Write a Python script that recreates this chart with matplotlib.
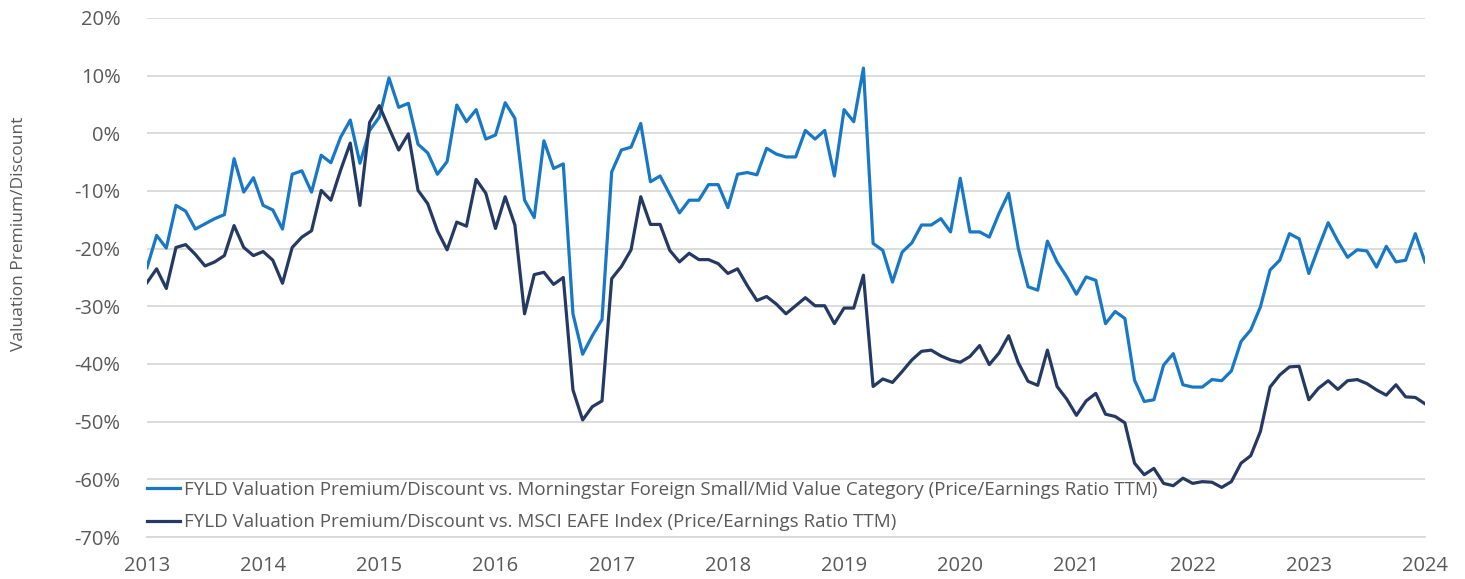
import numpy as np
import matplotlib
matplotlib.use("Agg")
import matplotlib.pyplot as plt
from matplotlib.ticker import FuncFormatter

plt.rcParams['font.family'] = ['Open Sans', 'DejaVu Sans']

# Monthly observations, Jan 2013 .. Jan 2024 (percent)
morningstar = [
    -23.3, -17.7, -19.9, -12.5, -13.5, -16.6, -15.7, -14.8, -14.1, -4.4, -10.2, -7.7,
    -12.5, -13.3, -16.6, -7.1, -6.5, -10.2, -3.8, -5.1, -0.7, 2.3, -5.2, 0.5,
    2.8, 9.6, 4.5, 5.2, -1.9, -3.4, -7.1, -4.9, 4.9, 2.0, 4.1, -1.0,
    -0.3, 5.3, 2.6, -11.6, -14.6, -1.3, -6.1, -5.3, -31.3, -38.3, -35.1, -32.3,
    -6.7, -2.9, -2.4, 1.7, -8.4, -7.4, -10.6, -13.8, -11.6, -11.6, -8.9, -8.9,
    -12.9, -7.1, -6.8, -7.2, -2.6, -3.6, -4.1, -4.1, 0.5, -1.0, 0.5, -7.4,
    4.1, 2.0, 11.3, -19.1, -20.3, -25.8, -20.6, -19.0, -15.9, -15.9, -14.8, -17.1,
    -7.8, -17.1, -17.1, -18.0, -13.9, -10.4, -20.0, -26.6, -27.2, -18.7, -22.3, -24.9,
    -27.9, -24.9, -25.5, -33.0, -30.9, -32.1, -42.8, -46.5, -46.2, -40.2, -38.2, -43.6,
    -44.0, -44.0, -42.7, -42.9, -41.2, -36.1, -34.1, -30.1, -23.7, -22.0, -17.4, -18.3,
    -24.3, -19.8, -15.5, -18.7, -21.5, -20.2, -20.4, -23.2, -19.6, -22.3, -22.0, -17.4,
    -22.3,
]

msci_eafe = [
    -25.9, -23.5, -26.9, -19.8, -19.3, -21.0, -23.0, -22.3, -21.2, -16.0, -19.8, -21.2,
    -20.5, -22.0, -26.0, -19.8, -18.0, -16.9, -9.9, -11.6, -6.4, -1.7, -12.5, 1.9,
    4.8, 0.9, -2.9, -0.1, -9.9, -12.2, -16.9, -20.2, -15.4, -16.1, -8.0, -10.4,
    -16.5, -11.0, -15.9, -31.3, -24.5, -24.1, -26.2, -25.0, -44.5, -49.7, -47.4, -46.4,
    -25.2, -23.1, -20.2, -11.0, -15.8, -15.8, -20.3, -22.3, -20.8, -21.9, -21.9, -22.6,
    -24.3, -23.5, -26.4, -29.0, -28.3, -29.6, -31.3, -29.9, -28.5, -29.9, -29.9, -33.0,
    -30.3, -30.3, -24.6, -43.9, -42.6, -43.2, -41.3, -39.3, -37.8, -37.6, -38.6, -39.3,
    -39.7, -38.7, -36.8, -40.1, -38.1, -35.1, -39.8, -43.0, -43.7, -37.6, -43.9, -46.1,
    -48.9, -46.4, -45.1, -48.7, -49.1, -50.2, -57.2, -59.2, -58.1, -60.7, -61.1, -59.8,
    -60.7, -60.4, -60.5, -61.4, -60.4, -57.2, -55.9, -51.7, -44.0, -41.9, -40.5, -40.4,
    -46.2, -44.2, -42.9, -44.4, -42.9, -42.7, -43.4, -44.5, -45.4, -43.6, -45.7, -45.8,
    -46.9,
]

start_year = 2013
year_ticks = list(range(2013, 2025))
y_ticks = list(range(-70, 21, 10))

label_a = "FYLD Valuation Premium/Discount vs. Morningstar Foreign Small/Mid Value Category (Price/Earnings Ratio TTM)"
label_b = "FYLD Valuation Premium/Discount vs. MSCI EAFE Index (Price/Earnings Ratio TTM)"

x = start_year + np.arange(len(morningstar)) / 12.0

fig = plt.figure(figsize=(14.65, 5.79), dpi=100)
ax = fig.add_axes([0.1003, 0.0725, 0.8724, 0.8965])

text_color = '#595959'
grid_color = '#d9d9d9'

ax.plot(x, morningstar, color='#1878c8', lw=2.3, label=label_a, solid_joinstyle='round')
ax.plot(x, msci_eafe, color='#243a64', lw=2.3, label=label_b, solid_joinstyle='round')

ax.set_xlim(2013, 2024)
ax.set_ylim(-70, 20)
ax.set_yticks(y_ticks)
ax.set_xticks(year_ticks)
ax.yaxis.set_major_formatter(FuncFormatter(lambda v, p: f"{int(round(v))}%"))
ax.grid(axis='y', color=grid_color, lw=1.3)
ax.set_axisbelow(True)
for s in ['top', 'right', 'left']:
    ax.spines[s].set_visible(False)
ax.spines['bottom'].set_color(grid_color)
ax.spines['bottom'].set_linewidth(1.3)
ax.tick_params(axis='both', length=0, labelsize=14.5, colors=text_color)
ax.tick_params(axis='y', pad=19)
ax.tick_params(axis='x', pad=14)
ax.set_ylabel("Valuation Premium/Discount", fontsize=12.5, color=text_color)
ax.yaxis.set_label_coords(-0.094, 0.584)

leg = ax.legend(loc='center left', bbox_to_anchor=(0.0, 0.0597), frameon=False,
                fontsize=13.5, handlelength=1.76, handletextpad=0.2, labelspacing=0.78,
                borderaxespad=0.0, borderpad=0.0)
for t in leg.get_texts():
    t.set_color(text_color)

fig.savefig("out.png", dpi=100)
